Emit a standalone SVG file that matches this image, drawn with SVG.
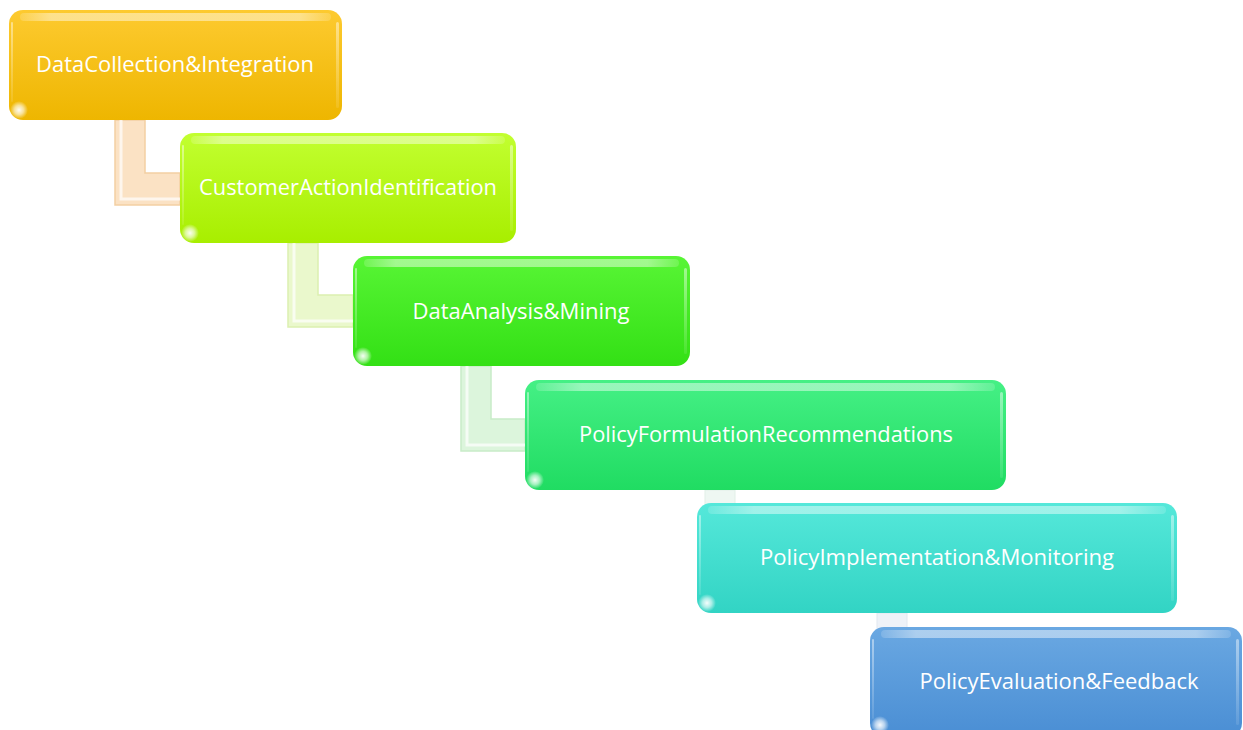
<svg xmlns="http://www.w3.org/2000/svg" width="1243" height="730" viewBox="0 0 1243 730">
<style>
.lbl{font-family:"Open Sans","Liberation Sans",sans-serif;font-size:21px;fill:#ffffff;text-anchor:middle}
.gloss{fill:url(#gloss)}
.side{fill:url(#side)}
.blob{fill:url(#blob)}
.conn{stroke-width:1.5;stroke-linejoin:miter}
.hl{fill:none;stroke:#ffffff;stroke-opacity:0.7;stroke-width:3}
</style>
<defs>
<linearGradient id="g1" x1="0" y1="0" x2="0" y2="1"><stop offset="0" stop-color="#fdca30"/><stop offset="1" stop-color="#eeb600"/></linearGradient>
<linearGradient id="g2" x1="0" y1="0" x2="0" y2="1"><stop offset="0" stop-color="#c2ff30"/><stop offset="1" stop-color="#a8ee00"/></linearGradient>
<linearGradient id="g3" x1="0" y1="0" x2="0" y2="1"><stop offset="0" stop-color="#58f535"/><stop offset="1" stop-color="#33e015"/></linearGradient>
<linearGradient id="g4" x1="0" y1="0" x2="0" y2="1"><stop offset="0" stop-color="#45f085"/><stop offset="1" stop-color="#20dc62"/></linearGradient>
<linearGradient id="g5" x1="0" y1="0" x2="0" y2="1"><stop offset="0" stop-color="#55e8da"/><stop offset="1" stop-color="#32d4c4"/></linearGradient>
<linearGradient id="g6" x1="0" y1="0" x2="0" y2="1"><stop offset="0" stop-color="#6aa8e2"/><stop offset="1" stop-color="#4a8ed4"/></linearGradient>
<linearGradient id="gloss" x1="0" y1="0" x2="1" y2="0"><stop offset="0" stop-color="#ffffff" stop-opacity="0.15"/><stop offset="0.1" stop-color="#ffffff" stop-opacity="0.45"/><stop offset="0.9" stop-color="#ffffff" stop-opacity="0.45"/><stop offset="1" stop-color="#ffffff" stop-opacity="0.15"/></linearGradient>
<linearGradient id="side" x1="0" y1="0" x2="0" y2="1"><stop offset="0" stop-color="#ffffff" stop-opacity="0.45"/><stop offset="1" stop-color="#ffffff" stop-opacity="0.1"/></linearGradient>
<radialGradient id="blob"><stop offset="0" stop-color="#ffffff" stop-opacity="0.95"/><stop offset="0.5" stop-color="#ffffff" stop-opacity="0.6"/><stop offset="1" stop-color="#ffffff" stop-opacity="0"/></radialGradient>
</defs>
<g id="connectors">
<polygon class="conn" points="115,120 145,120 145,173 180,173 180,205 115,205" fill="#fbe2c4" stroke="#f3cfa2"/>
<polyline class="hl" points="121,120 121,199 180,199"/>
<polygon class="conn" points="288,243 318,243 318,295 353,295 353,327 288,327" fill="#eaf8cc" stroke="#dcf0b0"/>
<polyline class="hl" points="294,243 294,321 353,321"/>
<polygon class="conn" points="461,366 491,366 491,419 525,419 525,451 461,451" fill="#dcf5dc" stroke="#c8ecc8"/>
<polyline class="hl" points="467,366 467,445 525,445"/>
<rect x="705" y="490" width="30" height="70" fill="#eef7f2" stroke="#e2efe8"/>
<rect x="877" y="613" width="30" height="70" fill="#eef2f8" stroke="#e2e8f0"/>
</g>
<g id="node1">
<rect x="9" y="10" width="333" height="110" rx="14" fill="url(#g1)"/>
<rect x="20" y="13" width="311" height="8" rx="4" class="gloss"/>
<rect x="336" y="22" width="3" height="86" rx="1.5" class="side"/>
<rect x="11" y="22" width="2" height="80" rx="1" class="side"/>
<circle cx="19" cy="110" r="9" class="blob"/>
<text class="lbl" x="175" y="72" textLength="278" lengthAdjust="spacingAndGlyphs">DataCollection&amp;Integration</text>
</g>
<g id="node2">
<rect x="180" y="133" width="336" height="110" rx="14" fill="url(#g2)"/>
<rect x="191" y="136" width="314" height="8" rx="4" class="gloss"/>
<rect x="510" y="145" width="3" height="86" rx="1.5" class="side"/>
<rect x="182" y="145" width="2" height="80" rx="1" class="side"/>
<circle cx="190" cy="233" r="9" class="blob"/>
<text class="lbl" x="348" y="195" textLength="298" lengthAdjust="spacingAndGlyphs">CustomerActionIdentification</text>
</g>
<g id="node3">
<rect x="353" y="256" width="337" height="110" rx="14" fill="url(#g3)"/>
<rect x="364" y="259" width="315" height="8" rx="4" class="gloss"/>
<rect x="684" y="268" width="3" height="86" rx="1.5" class="side"/>
<rect x="355" y="268" width="2" height="80" rx="1" class="side"/>
<circle cx="363" cy="356" r="9" class="blob"/>
<text class="lbl" x="521" y="319" textLength="217" lengthAdjust="spacingAndGlyphs">DataAnalysis&amp;Mining</text>
</g>
<g id="node4">
<rect x="525" y="380" width="481" height="110" rx="14" fill="url(#g4)"/>
<rect x="536" y="383" width="459" height="8" rx="4" class="gloss"/>
<rect x="1000" y="392" width="3" height="86" rx="1.5" class="side"/>
<rect x="527" y="392" width="2" height="80" rx="1" class="side"/>
<circle cx="535" cy="480" r="9" class="blob"/>
<text class="lbl" x="766" y="442" textLength="374" lengthAdjust="spacingAndGlyphs">PolicyFormulationRecommendations</text>
</g>
<g id="node5">
<rect x="697" y="503" width="480" height="110" rx="14" fill="url(#g5)"/>
<rect x="708" y="506" width="458" height="8" rx="4" class="gloss"/>
<rect x="1171" y="515" width="3" height="86" rx="1.5" class="side"/>
<rect x="699" y="515" width="2" height="80" rx="1" class="side"/>
<circle cx="707" cy="603" r="9" class="blob"/>
<text class="lbl" x="937" y="565" textLength="354" lengthAdjust="spacingAndGlyphs">PolicyImplementation&amp;Monitoring</text>
</g>
<g id="node6">
<rect x="870" y="627" width="372" height="110" rx="14" fill="url(#g6)"/>
<rect x="881" y="630" width="350" height="8" rx="4" class="gloss"/>
<rect x="1236" y="639" width="3" height="86" rx="1.5" class="side"/>
<rect x="872" y="639" width="2" height="80" rx="1" class="side"/>
<circle cx="880" cy="725" r="9" class="blob"/>
<text class="lbl" x="1059" y="689" textLength="279" lengthAdjust="spacingAndGlyphs">PolicyEvaluation&amp;Feedback</text>
</g>
</svg>
